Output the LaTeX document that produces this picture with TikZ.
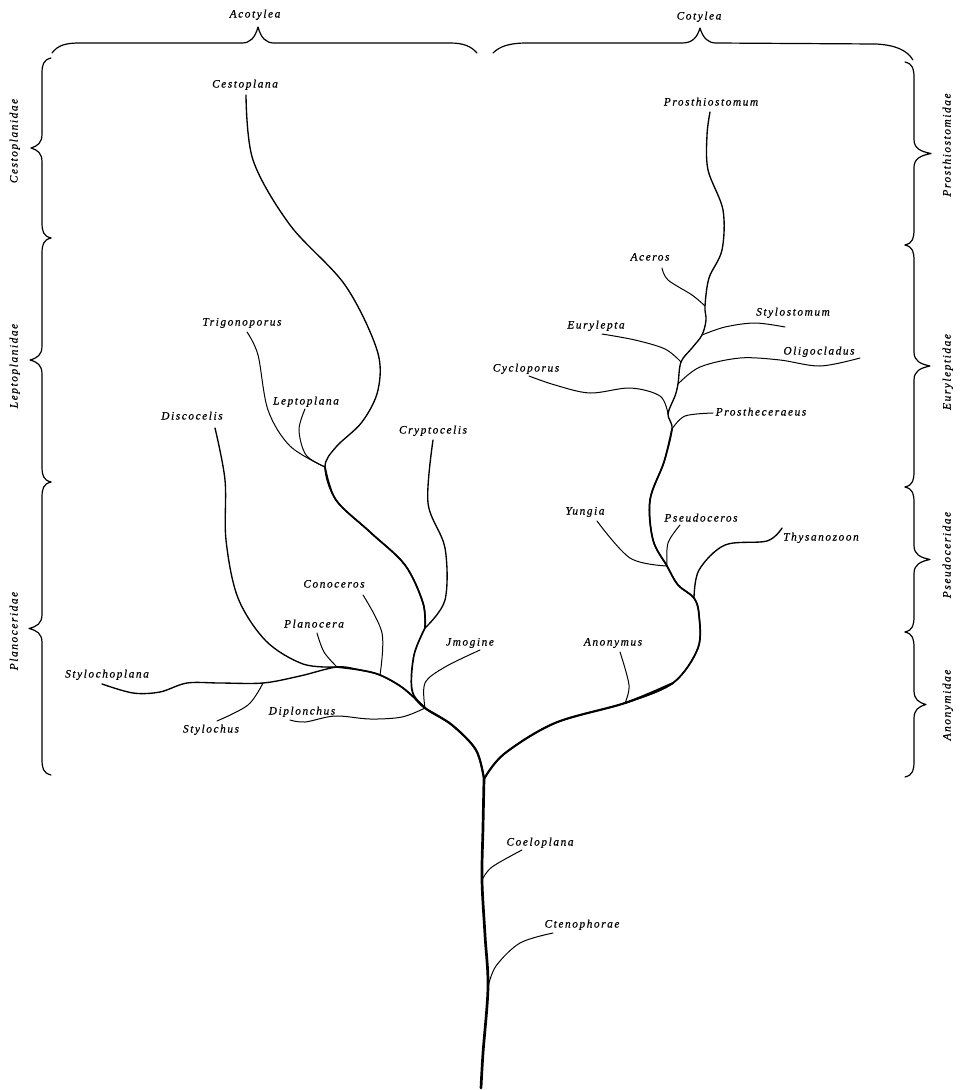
\documentclass[tikz,border=0pt]{standalone}
\usepackage{fontspec}
\setmainfont{Liberation Serif}
\newfontfamily\lblfont[LetterSpace=14,FakeBold=0.6]{Liberation Serif}
\tikzset{
  lbl/.style={font=\lblfont\itshape\fontsize{11.3}{13}\selectfont, inner sep=0pt, text height=8pt, text depth=3pt},
  grp/.style={lbl, rotate=90},
  brc/.style={line width=1.2pt, line join=round, line cap=round},
  wA/.style={line width=2.7pt, line cap=round, line join=round},
  wB/.style={line width=2.1pt, line cap=round, line join=round},
  wC/.style={line width=1.7pt, line cap=round, line join=round},
  wD/.style={line width=1.35pt, line cap=round, line join=round},
  wE/.style={line width=1.0pt, line cap=round, line join=round},
  sm/.style={smooth, tension=0.55}
}
\newcommand\vbr[5]{% x0, ya, yb, dir, tip depth
\draw[brc] ({#1-(#4)*9},#2) .. controls ({#1-(#4)*1},{#2+2}) and (#1,{#2+7}) .. (#1,{#2+16})
 -- (#1,{(#2+#3)/2-14}) .. controls (#1,{(#2+#3)/2-5}) and ({#1+(#4)*#5*0.4},{(#2+#3)/2-2}) .. ({#1+(#4)*#5},{(#2+#3)/2})
 .. controls ({#1+(#4)*#5*0.4},{(#2+#3)/2+2}) and (#1,{(#2+#3)/2+5}) .. (#1,{(#2+#3)/2+14})
 -- (#1,{#3-16}) .. controls (#1,{#3-7}) and ({#1-(#4)*1},{#3-2}) .. ({#1-(#4)*9},#3);}
\begin{document}
\begin{tikzpicture}[x=1pt,y=-1pt]
\useasboundingbox (0,0) rectangle (960,1090);
\fill[white] (0,0) rectangle (960,1090);

% ---------- braces ----------
\draw[brc] (52,53) .. controls (58,45) and (66,43) .. (80,43) -- (242,43) .. controls (250,43) and (255,38) .. (258,27)
  .. controls (261,38) and (266,43) .. (274,43) -- (450,43) .. controls (463,43) and (471,46) .. (477,53);
\draw[brc] (493,53) .. controls (500,46) and (510,43) .. (527,43) -- (682,43) .. controls (692,43) and (697,38) .. (700,28)
  .. controls (703,38) and (708,43) .. (716,43) -- (876,44) .. controls (895,45) and (907,50) .. (913,60);
\vbr{42}{58}{238}{-1}{11}
\vbr{42}{238}{482}{-1}{12}
\vbr{42}{482}{775}{-1}{13}
\vbr{914}{62}{245}{1}{17}
\vbr{914}{245}{487}{1}{16}
\vbr{914}{487}{632}{1}{16}
\vbr{914}{632}{777}{1}{12}

\node[lbl] (gAco) at (255,15) {Acotylea};
\node[lbl] (gCot) at (699,17) {Cotylea};
\node[grp] (gCes) at (15,141) {Cestoplanidae};
\node[grp] (gLep) at (15,366) {Leptoplanidae};
\node[grp] (gPla) at (15,631) {Planoceridae};
\node[grp] (gPro) at (948,145) {Prosthiostomidae};
\node[grp] (gEur) at (948,372) {Euryleptidae};
\node[grp] (gPse) at (948,555) {Pseudoceridae};
\node[grp] (gAno) at (948,705) {Anonymidae};

% ---------- labels ----------
\node[lbl] (nCten) at (582,925) {Ctenophorae};
\node[lbl] (nCoel) at (540,843) {Coeloplana};
\node[lbl] (nAnon) at (613,643) {Anonymus};
\node[lbl] (nThy) at (821,538) {Thysanozoon};
\node[lbl] (nYun) at (585,512) {Yungia};
\node[lbl] (nPse) at (701,519) {Pseudoceros};
\node[lbl] (nPrc) at (761,413) {Prostheceraeus};
\node[lbl] (nCyc) at (526,369) {Cycloporus};
\node[lbl] (nOli) at (819,352) {Oligocladus};
\node[lbl] (nEur) at (596,326) {Eurylepta};
\node[lbl] (nSty) at (793,313) {Stylostomum};
\node[lbl] (nAce) at (650,258) {Aceros};
\node[lbl] (nPrm) at (711,103) {Prosthiostomum};
\node[lbl] (nDip) at (302,712) {Diplonchus};
\node[lbl] (nImo) at (470,643) {Jmogine};
\node[lbl] (nCono) at (334,585) {Conoceros};
\node[lbl] (nPla) at (314,625) {Planocera};
\node[lbl] (nDis) at (192,417) {Discocelis};
\node[lbl] (nStc) at (107,675) {Stylochoplana};
\node[lbl] (nSth) at (211,730) {Stylochus};
\node[lbl] (nCry) at (433,431) {Cryptocelis};
\node[lbl] (nCes) at (245,85) {Cestoplana};
\node[lbl] (nTri) at (242,323) {Trigonoporus};
\node[lbl] (nLep) at (306,402) {Leptoplana};

% ---------- junctions ----------
\coordinate (base) at (481,1088);
\coordinate (jCten) at (488,987);
\coordinate (jCoel) at (482,880);
\coordinate (jFork) at (484,779);
\coordinate (jL) at (425,708);
\coordinate (jAnon) at (625,703);
\coordinate (jThy) at (694,598);
\coordinate (jYP) at (667,566);
\coordinate (jPros) at (672,429);
\coordinate (jCyc) at (668,414);
\coordinate (jOli) at (678,384);
\coordinate (jEur) at (681,362);
\coordinate (jSty) at (702,335);
\coordinate (jAce) at (705,306);
\coordinate (jCono) at (380,675);
\coordinate (jPla) at (337,667);
\coordinate (jStyl) at (263,683);
\coordinate (jCry) at (425,628);
\coordinate (jTL) at (325,467);
% twig ends
\coordinate (tCten) at (553,933);
\coordinate (tCoel) at (522,850);
\coordinate (tAnon) at (620,652);
\coordinate (tThy) at (782,528);
\coordinate (tYun) at (597,521);
\coordinate (tPse) at (680,525);
\coordinate (tPrc) at (713,413);
\coordinate (tCyc) at (529,376);
\coordinate (tOli) at (860,358);
\coordinate (tEur) at (602,334);
\coordinate (tSty) at (785,327);
\coordinate (tAce) at (662,268);
\coordinate (tPrm) at (710,112);
\coordinate (tDip) at (290,720);
\coordinate (tImo) at (480,650);
\coordinate (tCono) at (363,595);
\coordinate (tPla) at (317,633);
\coordinate (tDis) at (215,428);
\coordinate (tStc) at (102,684);
\coordinate (tSth) at (217,721);
\coordinate (tCry) at (433,440);
\coordinate (tCes) at (246,95);
\coordinate (tTri) at (247,332);
\coordinate (tLep) at (305,409);

% ---------- tree: stem and twigs ----------
\draw[wA] plot[sm] coordinates {(base) (483,1053) (jCten) (485,935) (jCoel) (483,827) (jFork)};
\draw[wE] plot[sm] coordinates {(jCten) (496,966) (520,943) (tCten)};
\draw[wE] plot[sm] coordinates {(jCoel) (492,867) (tCoel)};

% right side: one continuous stem up to Prosthiostomum
\draw[wD] plot[sm] coordinates {(jFork) (504,754) (555,723) (jAnon) (673,683) (698,648) (699,615) (jThy) (678,585) (jYP)
   (653,540) (650,500) (664,462) (jPros) (jCyc) (675,396) (jOli) (jEur) (692,348) (jSty) (706,320) (jAce)
   (709,278) (722,250) (723,210) (708,170) (707,135) (tPrm)};
\draw[wC] plot[sm] coordinates {(jAnon) (673,683) (698,648) (699,615) (jThy) (678,585) (jYP) (653,540) (650,500) (664,462) (jPros)};
\draw[wB] plot[sm] coordinates {(jFork) (504,754) (555,723) (jAnon) (673,683)};
\draw[wE] plot[sm] coordinates {(jAnon) (629,685) (tAnon)};
\draw[wD] plot[sm] coordinates {(jThy) (699,570) (725,545) (767,541) (tThy)};
\draw[wE] plot[sm] coordinates {(jYP) (630,558) (tYun)};
\draw[wE] plot[sm] coordinates {(jYP) (668,543) (tPse)};
\draw[wE] plot[sm] coordinates {(jPros) (685,416) (tPrc)};
\draw[wE] plot[sm] coordinates {(jCyc) (660,396) (630,388) (590,393) (555,385) (tCyc)};
\draw[wE] plot[sm] coordinates {(jOli) (700,367) (740,358) (780,360) (820,366) (tOli)};
\draw[wE] plot[sm] coordinates {(jEur) (665,349) (635,340) (tEur)};
\draw[wE] plot[sm] coordinates {(jSty) (725,327) (755,323) (tSty)};
\draw[wE] plot[sm] coordinates {(jAce) (692,295) (668,280) (tAce)};

% left side
\draw[wC] plot[sm] coordinates {(jFork) (476,750) (452,725) (jL) (412,690) (414,655) (jCry)};
\draw[wB] plot[sm] coordinates {(jFork) (476,750) (452,725) (jL) (415,698)};
\draw[wD] plot[sm] coordinates {(jCry) (423,603) (405,565) (370,532) (336,500) (jTL) (336,447) (362,422) (378,390)
   (377,350) (345,285) (290,225) (253,160) (tCes)};
\draw[wC] plot[sm] coordinates {(jCry) (423,603) (405,565) (370,532) (336,500) (jTL)};
\draw[wD] plot[sm] coordinates {(jCry) (445,600) (445,548) (428,503) (tCry)};
\draw[wE] plot[sm] coordinates {(jTL) (290,446) (268,410) (258,355) (tTri)};
\draw[wE] plot[sm] coordinates {(jTL) (306,455) (299,430) (tLep)};

\draw[wD] plot[sm] coordinates {(jL) (403,688) (jCono) (360,670) (jPla) (300,676) (jStyl) (220,683) (187,683) (160,692) (133,693) (tStc)};
\draw[wC] plot[sm] coordinates {(jL) (403,688) (jCono) (360,670) (jPla)};
\draw[wE] plot[sm] coordinates {(jL) (402,717) (370,719) (335,716) (305,722) (tDip)};
\draw[wE] plot[sm] coordinates {(jL) (425,683) (445,667) (tImo)};
\draw[wE] plot[sm] coordinates {(jCono) (382,633) (tCono)};
\draw[wE] plot[sm] coordinates {(jPla) (324,652) (tPla)};
\draw[wD] plot[sm] coordinates {(jPla) (303,664) (266,641) (238,598) (226,540) (225,480) (tDis)};
\draw[wE] plot[sm] coordinates {(jStyl) (248,705) (tSth)};
\end{tikzpicture}
\end{document}
